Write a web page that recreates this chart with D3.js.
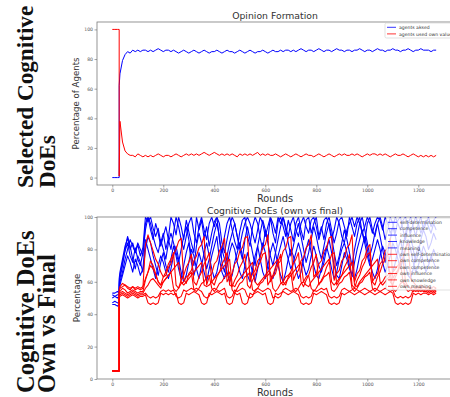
<!DOCTYPE html>
<html><head><meta charset="utf-8">
<script src="https://cdn.jsdelivr.net/npm/d3@7"></script>
<style>body{margin:0;background:#fff}svg{display:block}</style></head>
<body><svg id="c" width="450" height="397"></svg>
<script>
// ---------- data ----------
const rounds = [0,10,20,27,27].concat(d3.range(30,1271,10));
const xTicks = [0,200,400,600,800,1000,1200];
const yTicks = [0,20,40,60,80,100];

const topNames = ["agents aksed","agents used own values"];
const agentsAsked = [0,0,0,0,62,
 70,79,83,85,84,86,85,86,85,86, 86,85,86,85,86,87,86,85,86,86,
 85,86,85,84,85,86,85,84,85,86, 85,84,85,86,85,84,85,85,86,85,
 84,85,86,85,85,84,85,86,85,84, 85,86,85,84,85,85,86,85,84,85,
 86,85,85,86,85,86,86,85,86,85, 86,87,86,85,86,86,85,86,87,86,
 85,86,86,85,86,87,86,86,85,86, 86,85,86,86,87,86,85,86,86,85,
 86,87,86,86,85,86,86,87,86,86, 85,86,86,87,86,85,86,86,87,86,
 86,86,85,86,86];
const agentsOwn = [100,100,100,100,1,
 38,24,18,16,15,15,14,16,15,14, 15,14,15,14,15,16,15,14,15,15,
 14,15,16,15,14,15,16,15,16,15, 16,15,16,17,16,15,16,17,16,15,
 16,15,16,15,16,15,14,16,15,16, 15,16,15,16,17,15,16,15,16,15,
 15,16,15,14,15,16,15,14,15,16, 15,14,15,16,15,15,14,15,16,15,
 14,15,16,15,14,15,16,15,16,15, 15,16,15,16,15,14,15,16,15,16,
 16,15,16,15,16,15,14,15,16,15, 15,16,15,14,15,16,15,14,15,14,
 15,14,15,14,15];

const botNames = ["self-determination","competence","influence","knowledge","meaning",
 "own self-determination","own competence","own competence","own influence","own knowledge","own meaning"];

const selfDetermination = [53,53,54,53,62,
 66,74,82,87,80,84,78,83,76,81, 100,97,100,93,88,93,84,90,80,87,
 100,96,89,100,94,86,98,91,84,78, 100,92,98,87,94,82,90,97,100,86,
 78,88,96,100,92,85,80,91,98,100, 88,82,94,100,96,87,80,92,86,100,
 90,84,97,100,94,88,98,92,85,96, 100,92,86,98,100,90,96,100,88,94,
 86,96,100,92,84,90,98,100,94,88, 100,94,88,96,100,90,84,96,100,92,
 88,96,100,94,86,92,100,96,90,98, 100,92,86,96,100,94,88,96,100,92,
 96,100,94,98,100];
const competence = [52,51,52,52,60,
 64,72,79,84,76,72,81,74,70,78, 92,100,96,88,82,78,86,80,74,84,
 90,84,78,72,80,88,94,86,76,70, 82,90,84,76,68,74,82,90,96,88,
 72,66,76,84,90,96,88,80,74,86, 94,86,78,70,82,90,98,92,84,76,
 70,78,86,94,100,92,84,76,82,90, 96,88,80,72,78,86,94,88,80,74,
 82,90,96,88,78,70,76,84,92,86, 78,70,80,88,96,100,92,84,76,82,
 90,96,88,80,72,78,86,94,88,80, 74,82,90,96,88,80,72,78,86,92,
 88,80,84,90,86];
const influence = [50,51,50,51,58,
 62,70,80,88,82,74,68,76,72,66, 80,88,84,76,70,64,72,78,70,66,
 74,82,76,68,62,70,78,84,72,64, 70,78,72,66,60,68,76,82,88,74,
 66,62,70,78,84,80,72,66,62,70, 78,72,66,60,68,76,84,78,70,64,
 62,68,76,82,88,80,74,68,72,78, 84,78,70,64,68,76,82,76,70,66,
 72,80,86,78,70,64,62,70,78,74, 68,64,72,80,86,92,84,76,70,74,
 80,86,80,72,66,70,76,84,80,74, 68,74,80,86,80,72,66,70,76,82,
 78,72,74,80,76];
const knowledge = [47,48,47,47,56,
 60,66,74,80,86,82,78,84,80,76, 96,100,92,86,96,90,82,88,94,86,
 80,90,100,94,86,80,88,96,100,90, 84,94,100,92,86,96,100,94,100,96,
 84,78,86,94,100,96,88,82,90,96, 100,96,90,84,92,100,96,88,94,100,
 96,90,100,96,100,94,88,96,100,92, 88,96,100,94,90,98,100,94,86,92,
 98,100,94,86,92,100,96,88,84,92, 96,100,94,100,96,90,94,100,96,90,
 96,100,98,92,100,96,90,94,100,96, 92,98,100,94,90,96,100,96,90,94,
 98,94,90,96,92];
const meaning = [46,46,45,46,54,
 58,64,70,76,72,66,74,70,64,68, 86,80,74,68,62,70,76,72,66,62,
 68,76,82,74,66,60,64,72,80,76, 68,62,70,78,84,76,68,62,66,74,
 80,74,66,60,64,72,78,84,76,70, 64,60,68,76,82,74,66,62,70,78,
 84,78,70,64,60,66,74,80,76,68, 62,66,74,80,86,78,70,64,62,68,
 76,82,76,68,62,66,74,80,84,78, 70,64,62,68,76,82,88,80,72,66,
 62,68,76,82,78,70,64,66,72,80, 86,78,70,64,62,68,76,82,78,72,
 66,70,76,72,68];
const ownSelfDetermination = [5,5,5,5,55,
 57,59,58,56,55,57,55,56,55,56, 83,89,84,79,74,71,66,63,64,69,
 71,77,80,85,87,62,59,65,67,73, 76,81,83,88,58,63,65,71,73,79,
 82,87,60,63,65,71,73,79,81,87, 88,61,65,67,73,75,81,83,89,60,
 63,65,71,73,79,81,87,88,61,65, 67,73,75,81,83,89,63,65,71,73,
 79,81,87,88,61,65,67,73,75,81, 83,89,60,65,67,73,75,81,83,60,
 63,65,71,73,79,81,87,62,65,67, 73,75,81,84,62,60,58,56,58,57,
 56,55,56,55,56];
const ownCompetence = [5,5,5,5,53,
 54,56,55,53,54,55,54,53,54,54, 61,66,73,70,65,60,58,63,66,71,
 74,78,58,56,61,64,69,72,77,60, 58,63,66,71,74,78,60,58,63,66,
 71,74,78,58,57,61,64,69,72,77, 58,56,61,64,69,72,77,78,58,61,
 64,69,72,77,60,58,63,66,71,74, 78,60,57,61,64,69,72,77,58,61,
 64,69,72,77,78,58,61,64,69,72, 77,58,56,61,64,69,72,77,78,60,
 58,63,66,71,74,78,60,58,63,66, 71,74,60,57,56,55,56,55,56,55,
 55,54,55,54,55];
const ownCompetence2 = [5,5,5,5,52,
 53,54,53,52,53,54,53,52,53,53, 56,58,61,62,60,58,56,60,62,64,
 66,56,54,56,59,60,63,64,66,55, 54,56,59,60,63,64,56,54,56,59,
 60,63,64,66,55,53,56,59,60,63, 64,66,55,54,56,59,60,63,64,66,
 56,54,56,59,60,63,64,66,55,54, 56,59,60,63,64,56,54,56,59,60,
 63,64,66,55,54,56,59,60,63,64, 66,56,54,56,59,60,63,64,66,56,
 54,56,59,60,63,64,66,56,54,56, 59,60,56,54,55,54,55,54,55,54,
 54,53,54,53,54];
const ownInfluence = [5,5,5,5,51,
 52,53,52,51,52,53,52,51,52,52, 53,51,50,51,50,51,54,55,54,55,
 54,55,51,50,51,55,54,55,56,55, 56,55,54,51,50,51,55,56,55,54,
 55,56,51,50,51,55,54,55,56,55, 51,50,51,55,56,55,54,55,56,55,
 50,51,50,51,55,56,55,54,55,56, 55,51,50,51,50,51,55,54,55,56,
 55,56,51,50,51,50,51,55,56,55, 54,55,56,55,54,55,56,55,54,55,
 56,55,54,55,56,55,54,55,51,50, 51,50,51,50,51,55,54,55,54,55,
 54,55,54,55,54];
const ownKnowledge = [5,5,5,5,50,
 51,52,51,50,51,52,51,50,51,51, 52,47,46,47,46,47,53,52,53,52,
 53,52,53,47,46,47,53,52,53,54, 53,52,47,46,47,53,52,53,54,53,
 52,53,47,46,47,53,52,53,47,46, 47,53,52,53,54,53,52,53,47,46,
 47,53,52,53,54,53,52,53,54,53, 52,47,46,47,46,47,53,52,53,54,
 53,52,47,46,47,46,47,53,52,53, 54,53,52,53,54,53,52,53,54,53,
 52,53,54,53,52,53,54,53,47,46, 47,46,47,46,47,53,52,53,52,53,
 53,52,53,52,53];
const ownMeaning = [5,5,5,5,54,
 56,57,58,57,56,57,56,57,56,57, 62,66,70,68,64,60,58,60,62,64,
 66,68,70,72,60,58,60,62,64,66, 68,70,72,58,57,58,60,62,64,66,
 68,70,72,74,58,57,60,62,64,66, 68,70,72,60,58,60,62,64,66,68,
 70,72,74,60,58,60,62,64,66,68, 70,72,60,58,57,60,62,64,66,68,
 70,72,74,60,58,60,62,64,66,68, 70,72,58,57,60,62,64,66,68,70,
 72,74,60,58,60,62,64,66,68,70, 72,60,58,57,56,57,56,57,56,57,
 56,57,56,57,56];

const topValues = [agentsAsked, agentsOwn];
const topColors = ["#0000ff","#ff0000"];
const botValues = [selfDetermination,competence,influence,knowledge,meaning,
 ownSelfDetermination,ownCompetence,ownCompetence2,ownInfluence,ownKnowledge,ownMeaning];
const botColors = ["#0000ff","#0000ff","#0000ff","#0000ff","#0000ff",
 "#ff0000","#ff0000","#ff0000","#ff0000","#ff0000","#ff0000"];

// ---------- drawing ----------
const svg = d3.select("#c");
const x = d3.scaleLinear().domain([-60,1340]).range([97,454]);

function panel(o){
  const g = svg.append("g");
  const y = o.y;
  const [y0,y1] = [y.range()[1], y.range()[0]];
  const id = "clip"+o.key;
  svg.append("defs").append("clipPath").attr("id",id).append("rect")
    .attr("x",x.range()[0]).attr("y",y0).attr("width",x.range()[1]-x.range()[0]).attr("height",y1-y0);
  const line = d3.line().x((d,i)=>x(rounds[i])).y(d=>y(d));
  const lg = g.append("g").attr("clip-path",`url(#${id})`);
  o.values.forEach((v,i)=>{
    lg.append("path").datum(v).attr("d",line).attr("fill","none")
      .attr("stroke",o.colors[i]).attr("stroke-width",o.sw).attr("stroke-linejoin","round");
  });
  g.append("rect").attr("x",x.range()[0]).attr("y",y0).attr("width",x.range()[1]-x.range()[0])
    .attr("height",y1-y0).attr("fill","none").attr("stroke","#7a7a7a").attr("stroke-width",0.8);
  const ax = g.append("g").attr("transform",`translate(0,${y1})`)
    .call(d3.axisBottom(x).tickValues(xTicks).tickFormat(d3.format("d")).tickSize(2.5).tickPadding(1.5));
  const ay = g.append("g").attr("transform",`translate(${x.range()[0]},0)`)
    .call(d3.axisLeft(y).tickValues(yTicks).tickFormat(d3.format("d")).tickSize(2.5).tickPadding(1.5));
  [ax,ay].forEach(a=>{
    a.select(".domain").remove();
    a.selectAll("line").attr("stroke","#666").attr("stroke-width",0.6);
    a.selectAll("text").attr("font-family","DejaVu Sans").attr("font-size",4.6).attr("fill","#555");
  });
  g.append("text").attr("x",275).attr("y",o.titleY).attr("text-anchor","middle")
    .attr("font-family","DejaVu Sans").attr("font-size",9.3).attr("fill","#333").text(o.title);
  g.append("text").attr("x",275).attr("y",o.xlabY).attr("text-anchor","middle")
    .attr("font-family","DejaVu Sans").attr("font-size",9.8).attr("fill","#333").text("Rounds");
  g.append("text").attr("transform",`translate(${o.ylabX},${(y0+y1)/2}) rotate(-90)`)
    .attr("text-anchor","middle").attr("font-family","DejaVu Sans").attr("font-size",8.6)
    .attr("fill","#333").text(o.ylabel);
  // legend
  const L = o.legend;
  const lgd = g.append("g");
  lgd.append("rect").attr("x",L.x).attr("y",L.y).attr("width",L.w).attr("height",L.h)
    .attr("fill","#fff").attr("fill-opacity",0.8).attr("stroke","#cfcfcf").attr("stroke-width",0.6).attr("rx",1.5);
  o.names.forEach((n,i)=>{
    const yy = L.y + L.first + i*L.step;
    lgd.append("line").attr("x1",L.x+2).attr("x2",L.x+11).attr("y1",yy).attr("y2",yy)
      .attr("stroke",o.colors[i]).attr("stroke-width",0.8);
    lgd.append("text").attr("x",L.x+14).attr("y",yy+1.6).attr("font-family","DejaVu Sans")
      .attr("font-size",L.fs).attr("fill","#333").text(n);
  });
}

panel({key:"t", y:d3.scaleLinear().domain([-5,105]).range([185,22]), values:topValues, colors:topColors, sw:1.0,
  names:topNames, title:"Opinion Formation", titleY:19, xlabY:201.5, ylabX:79, ylabel:"Percentage of Agents",
  legend:{x:385,y:23,w:80,h:15,first:4.3,step:6.6,fs:4.6}});
panel({key:"b", y:d3.scaleLinear().domain([0,100]).range([379,217]), values:botValues, colors:botColors, sw:1.1,
  names:botNames, title:"Cognitive DoEs (own vs final)", titleY:214, xlabY:395.5, ylabX:80, ylabel:"Percentage",
  legend:{x:386,y:218,w:80,h:72,first:4.3,step:6.4,fs:4.6}});

// side labels
function side(lines, yStart, fs){
  lines.forEach(l=>{
    svg.append("text").attr("transform",`translate(${l.x},${yStart}) rotate(-90)`)
      .attr("font-family","Liberation Serif").attr("font-weight","bold").attr("font-size",fs)
      .attr("fill","#111").text(l.t);
  });
}
side([{t:"Selected Cognitive",x:33},{t:"DoEs",x:55}],188,23.2);
side([{t:"Cognitive DoEs",x:34},{t:"Own vs Final",x:55}],393,24.5);
</script></body></html>
